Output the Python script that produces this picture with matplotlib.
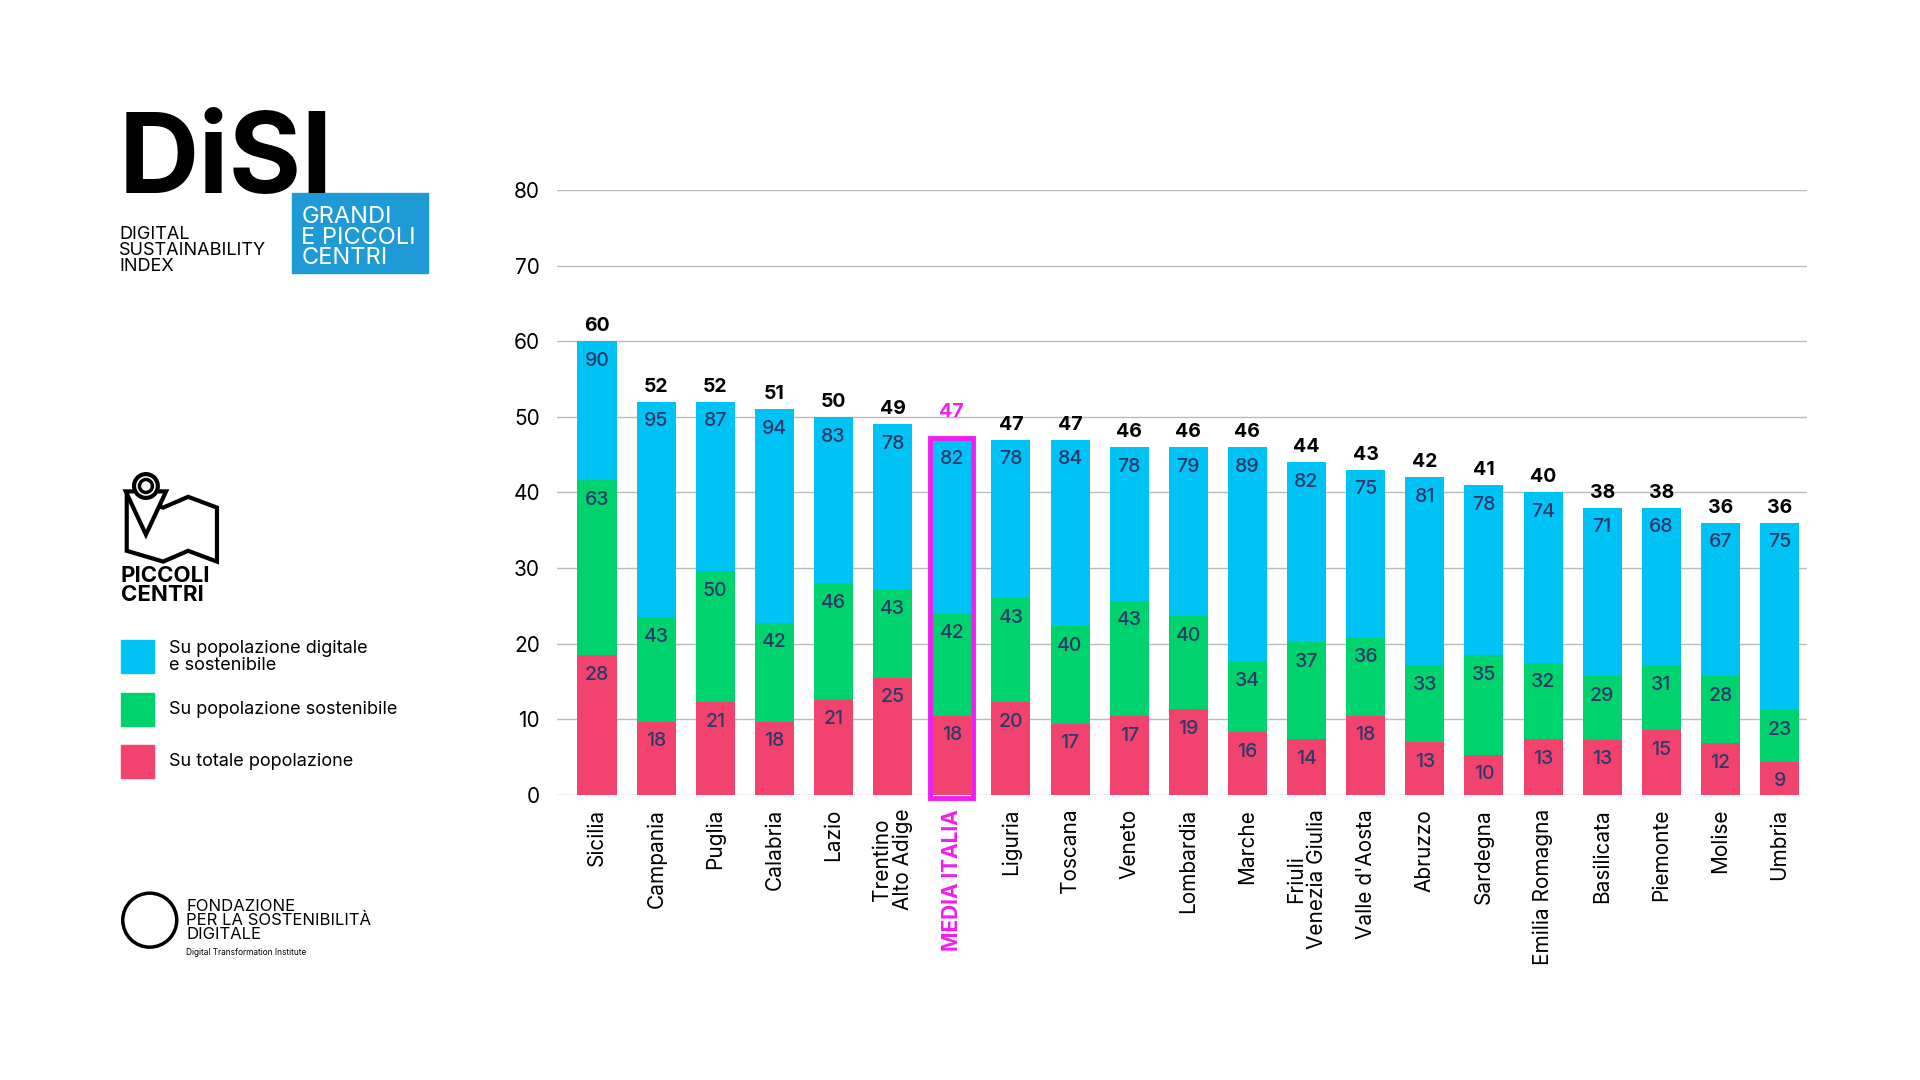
import matplotlib.pyplot as plt
from matplotlib.patches import Rectangle, Ellipse, Polygon

regions = ["Sicilia", "Campania", "Puglia", "Calabria", "Lazio", "Trentino\nAlto Adige",
           "MEDIA ITALIA", "Liguria", "Toscana", "Veneto", "Lombardia", "Marche",
           "Friuli\nVenezia Giulia", "Valle d'Aosta", "Abruzzo", "Sardegna",
           "Emilia Romagna", "Basilicata", "Piemonte", "Molise", "Umbria"]
totals = [60, 52, 52, 51, 50, 49, 47, 47, 47, 46, 46, 46, 44, 43, 42, 41, 40, 38, 38, 36, 36]
# segment heights
pink_h = [18.5, 9.7, 12.3, 9.7, 12.6, 15.5, 10.5, 12.3, 9.4, 10.4, 11.3, 8.3, 7.4, 10.5, 7.0, 5.3, 7.4, 7.3, 8.6, 6.8, 4.4]
green_top = [41.6, 23.5, 29.6, 22.8, 28.0, 27.2, 24.0, 26.0, 22.3, 25.7, 23.6, 17.7, 20.2, 20.9, 17.2, 18.5, 17.5, 15.7, 17.2, 15.7, 11.2]
# labels printed in segments
lab_pink = [28, 18, 21, 18, 21, 25, 18, 20, 17, 17, 19, 16, 14, 18, 13, 10, 13, 13, 15, 12, 9]
lab_green = [63, 43, 50, 42, 46, 43, 42, 43, 40, 43, 40, 34, 37, 36, 33, 35, 32, 29, 31, 28, 23]
lab_blue = [90, 95, 87, 94, 83, 78, 82, 78, 84, 78, 79, 89, 82, 75, 81, 78, 74, 71, 68, 67, 75]

BLUE, GREEN, PINK = "#00C3F5", "#00D26E", "#F2426E"
NAVY = "#2B3A6B"
MAG = "#F01EF0"
LOGO_BLUE = "#1E9BD7"
ASP = 1080 / 1920

plt.rcParams['font.family'] = ['Inter', 'DejaVu Sans']
fig = plt.figure(figsize=(19.2, 10.8), dpi=100)
ax = fig.add_axes([0.29, 0.264, 0.651, 0.56])

x = list(range(len(regions)))
w = 0.66
green_h = [g - p for g, p in zip(green_top, pink_h)]
blue_h = [t - g for t, g in zip(totals, green_top)]
ax.bar(x, pink_h, w, color=PINK, zorder=3)
ax.bar(x, green_h, w, bottom=pink_h, color=GREEN, zorder=3)
ax.bar(x, blue_h, w, bottom=green_top, color=BLUE, zorder=3)

for i in x:
    for top, lab in ((pink_h[i], lab_pink[i]), (green_top[i], lab_green[i]), (totals[i], lab_blue[i])):
        ax.text(i, top - 2.6, str(lab), ha='center', va='center', color=NAVY,
                fontsize=14, fontweight='medium', zorder=6)
    c = MAG if regions[i] == "MEDIA ITALIA" else "black"
    ax.text(i, totals[i] + (2.5 if c == MAG else 0.8), str(totals[i]), ha='center', va='bottom',
            color=c, fontsize=14, fontweight='bold', zorder=4)

mi = regions.index("MEDIA ITALIA")
ax.add_patch(Rectangle((mi - w / 2 - 0.03, -0.4), w + 0.06, totals[mi] + 0.6, fill=False,
                       edgecolor=MAG, linewidth=3.5, zorder=5, clip_on=False))

ax.set_xlim(-0.68, len(regions) - 1 + 0.46)
ax.set_ylim(0, 80)
ax.set_yticks(range(0, 81, 10))
ax.tick_params(axis='y', length=0, labelsize=15, pad=12)
ax.tick_params(axis='x', length=0, pad=10)
ax.set_xticks(x)
ax.set_xticklabels(regions, rotation=90, fontsize=15, va='top', ha='center', linespacing=1.0)
for t in ax.get_xticklabels():
    if t.get_text() == "MEDIA ITALIA":
        t.set_color(MAG)
        t.set_fontweight('bold')
ax.grid(axis='y', color='#BBBBBB', linewidth=1, zorder=0)
for s in ax.spines.values():
    s.set_visible(False)

# logo
fig.text(0.062, 0.80, "DiSI", fontsize=80, fontweight='bold', color='black', va='bottom')
fig.text(0.062, 0.745, "DIGITAL\nSUSTAINABILITY\nINDEX", fontsize=13, va='bottom', linespacing=0.95)
fig.patches.append(Rectangle((0.152, 0.747), 0.071, 0.074, transform=fig.transFigure,
                             color=LOGO_BLUE))
fig.text(0.157, 0.751, "GRANDI\nE PICCOLI\nCENTRI", fontsize=17, color='white', va='bottom',
         linespacing=0.9)

# map + pin icon
fig.patches.append(Polygon([(0.066, 0.49), (0.066, 0.54), (0.085, 0.53), (0.098, 0.54),
                            (0.113, 0.53), (0.113, 0.48), (0.098, 0.49), (0.085, 0.48)],
                           closed=True, fill=False, lw=3, ec='black', transform=fig.transFigure))
fig.patches.append(Polygon([(0.0655, 0.545), (0.076, 0.505), (0.0865, 0.545)], closed=True,
                           fc='white', ec='black', lw=3, transform=fig.transFigure))
fig.patches.append(Ellipse((0.076, 0.55), 0.022 * ASP * 1.0, 0.022 / 1.0, fc='white', ec='black', lw=3,
                           transform=fig.transFigure))
fig.patches.append(Ellipse((0.076, 0.55), 0.012 * ASP, 0.012, fc='white', ec='black', lw=2.5,
                           transform=fig.transFigure))
fig.text(0.063, 0.44, "PICCOLI\nCENTRI", fontsize=16, fontweight='bold', va='bottom', linespacing=0.9)

legend = [(BLUE, "Su popolazione digitale\ne sostenibile", 0.392),
          (GREEN, "Su popolazione sostenibile", 0.343),
          (PINK, "Su totale popolazione", 0.295)]
for col, txt, yy in legend:
    fig.patches.append(Rectangle((0.063, yy - 0.015), 0.017, 0.03, transform=fig.transFigure, color=col))
    fig.text(0.088, yy, txt, fontsize=13, va='center', linespacing=1.0)

fig.patches.append(Ellipse((0.078, 0.148), 0.05 * ASP, 0.05, fill=False, ec='black', lw=2.5,
                           transform=fig.transFigure))
fig.text(0.097, 0.148, "FONDAZIONE\nPER LA SOSTENIBILITÀ\nDIGITALE", fontsize=12, va='center', linespacing=0.9)
fig.text(0.097, 0.118, "Digital Transformation Institute", fontsize=6, va='center')

fig.savefig("out.png", dpi=100)
